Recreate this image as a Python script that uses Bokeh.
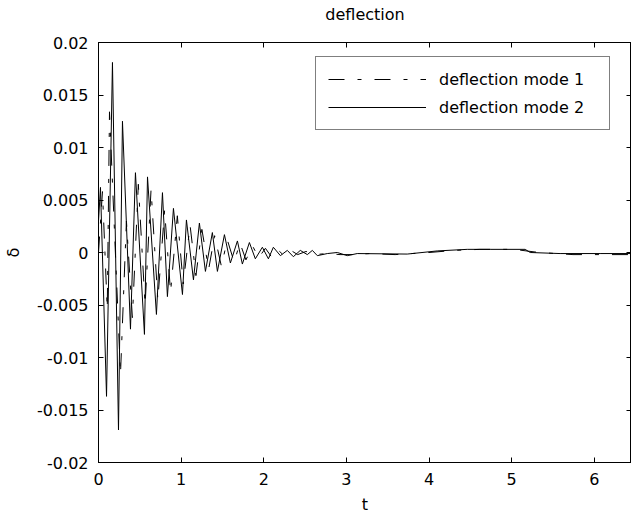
from bokeh.plotting import figure
from bokeh.models import LinearAxis, FixedTicker, Legend, LegendItem, Range1d, CustomLabelingPolicy
from bokeh.embed import file_html
from bokeh.resources import INLINE

# ---- data ----
t_mode1 = [0.000, 0.048, 0.106, 0.133, 0.266, 0.338, 0.410, 0.482, 0.564, 0.636,
           0.718, 0.800, 0.872, 0.954, 1.025, 1.108, 1.179, 1.251, 1.333, 1.405,
           1.487, 1.559, 1.641, 1.712, 1.784, 1.866, 1.938, 2.020, 2.092, 2.164,
           2.246, 2.328, 2.410, 2.512, 2.615, 2.769, 2.923, 3.076, 3.281, 3.589,
           3.999, 4.307, 4.614, 5.024, 5.332, 5.742, 6.152, 6.450]
d_mode1 = [0.0000, 0.0058, -0.0054, 0.0134, -0.0116, 0.0030, -0.0062, 0.0065, -0.0050, 0.0060,
           -0.0045, 0.0040, -0.0038, 0.0035, -0.0030, 0.0026, -0.0022, 0.0022, -0.0016, 0.0016,
           -0.0013, 0.0012, -0.0009, 0.0009, -0.0007, 0.0006, -0.0005, 0.0004, -0.0004, 0.0003,
           -0.0003, 0.0002, -0.0002, 0.0001, -0.0002, -0.0001, -0.0002, -0.0002, -0.0001, -0.0002,
           0.0000, 0.0002, 0.0003, 0.0003, 0.0000, -0.0002, -0.0002, -0.0002]

t_mode2 = [0.000, 0.024, 0.097, 0.169, 0.242, 0.290, 0.387, 0.447, 0.556, 0.593,
           0.701, 0.774, 0.834, 0.907, 1.016, 1.064, 1.149, 1.221, 1.294, 1.378,
           1.439, 1.524, 1.596, 1.681, 1.741, 1.826, 1.898, 1.983, 2.056, 2.116,
           2.201, 2.285, 2.358, 2.442, 2.527, 2.588, 2.648, 2.769, 2.890, 3.011,
           3.131, 3.736, 4.099, 4.462, 4.740, 5.163, 5.224, 5.586, 6.070, 6.450]
d_mode2 = [0.0030, 0.0062, -0.0137, 0.0181, -0.0169, 0.0125, -0.0073, 0.0076, -0.0078, 0.0072,
           -0.0059, 0.0057, -0.0042, 0.0042, -0.0040, 0.0031, -0.0026, 0.0028, -0.0018, 0.0019,
           -0.0018, 0.0017, -0.0010, 0.0011, -0.0011, 0.00095, -0.0006, 0.0005, -0.0006, 0.0005,
           -0.0003, 0.0002, -0.0004, 0.0002, -0.0002, 0.0002, -0.0003, -0.0001, 0.0000, -0.0003,
           -0.0001, -0.00015, 0.00015, 0.0003, 0.0003, 0.0003, 0.0000, -0.0001, -0.0001, -0.0001]

x_ticks = [0, 1, 2, 3, 4, 5, 6]
y_ticks = [-0.02, -0.015, -0.01, -0.005, 0.0, 0.005, 0.01, 0.015, 0.02]
y_tick_labels = ["-0.02", "-0.015", "-0.01", "-0.005", "0", "0.005", "0.01", "0.015", "0.02"]
series_labels = ["deflection mode 1", "deflection mode 2"]

FONT = "DejaVu Sans"
FS = "16px"

p = figure(width=631, height=517,
           x_range=Range1d(0, 6.45), y_range=Range1d(-0.02, 0.02),
           output_backend="svg", toolbar_location=None,
           min_border_left=98, min_border_right=0, min_border_top=42, min_border_bottom=55)

p.background_fill_color = "white"
p.border_fill_color = "white"
p.outline_line_color = "black"
p.outline_line_width = 1
p.grid.visible = False

p.title.text = "deflection"
p.title.align = "center"
p.title.text_font = FONT
p.title.text_font_size = FS
p.title.text_font_style = "normal"
p.title.text_color = "black"
p.title.standoff = 4

r1 = p.line(t_mode1, d_mode1, line_color="black", line_width=1, line_dash="16 13 4 13")
r2 = p.line(t_mode2, d_mode2, line_color="black", line_width=1)

overrides = {v: s for v, s in zip(y_ticks, y_tick_labels)}


def style_axis(ax, show_labels):
    ax.major_tick_in = 5
    ax.major_tick_out = 0
    ax.minor_tick_in = 0
    ax.minor_tick_out = 0
    ax.axis_line_color = "black"
    ax.major_tick_line_color = "black"
    ax.major_label_text_font = FONT
    ax.major_label_text_color = "black"
    ax.major_label_text_font_size = FS
    ax.axis_label_text_font = FONT
    ax.axis_label_text_font_size = FS
    ax.axis_label_text_font_style = "normal"
    ax.axis_label_text_color = "black"
    if not show_labels:
        ax.major_label_policy = CustomLabelingPolicy(code="return []")
        ax.major_label_text_font_size = "0px"
        ax.major_label_standoff = 0
        ax.axis_label_standoff = 0


xa = p.xaxis[0]
xa.ticker = FixedTicker(ticks=x_ticks)
style_axis(xa, True)
xa.major_label_standoff = 10
xa.axis_label = "t"
xa.axis_label_standoff = 7

ya = p.yaxis[0]
ya.ticker = FixedTicker(ticks=y_ticks)
ya.major_label_overrides = overrides
style_axis(ya, True)
ya.major_label_standoff = 10
ya.axis_label = "δ"
ya.axis_label_standoff = 11

# inner top axis: only the inward tick marks of the box
top = LinearAxis(ticker=FixedTicker(ticks=x_ticks))
style_axis(top, False)
p.add_layout(top, "above")

# invisible spacer axis that lifts the title clear of the box
spacer = LinearAxis(ticker=FixedTicker(ticks=x_ticks))
style_axis(spacer, False)
spacer.major_tick_in = 0
spacer.major_tick_out = 17
spacer.major_tick_line_color = None
spacer.axis_line_color = None
p.add_layout(spacer, "above")

right = LinearAxis(ticker=FixedTicker(ticks=y_ticks))
style_axis(right, False)
p.add_layout(right, "right")

legend = Legend(items=[LegendItem(label=series_labels[0], renderers=[r1]),
                       LegendItem(label=series_labels[1], renderers=[r2])],
                location=(217, 332))
legend.border_line_color = "black"
legend.border_line_width = 1
legend.background_fill_color = "white"
legend.background_fill_alpha = 1
legend.label_text_font = FONT
legend.label_text_font_size = FS
legend.label_text_color = "black"
legend.padding = 12
legend.spacing = 8
legend.margin = 0
legend.glyph_width = 98
legend.glyph_height = 20
legend.label_height = 20
legend.label_standoff = 13
legend.label_width = 158
p.add_layout(legend, "center")

open("out.html", "w").write(file_html(p, INLINE))
